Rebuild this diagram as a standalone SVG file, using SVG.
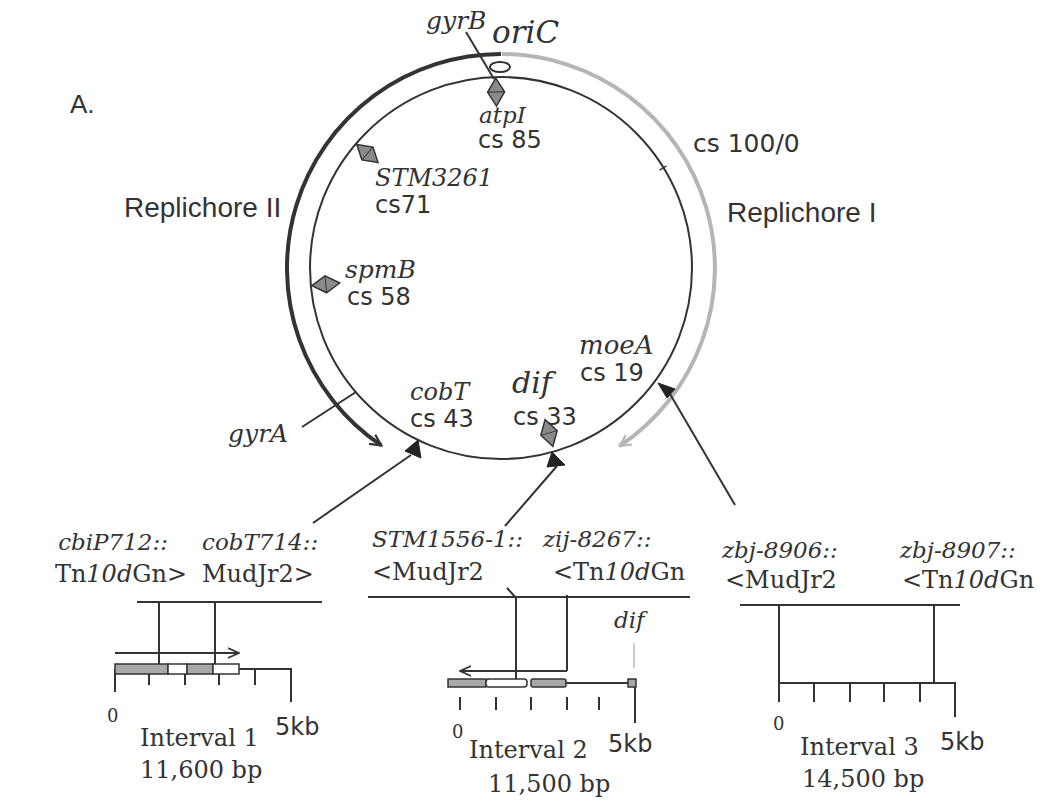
<svg xmlns="http://www.w3.org/2000/svg" width="1044" height="805" viewBox="0 0 1044 805">
<style>
  text { fill: #333; }
  .it { font-family: "DejaVu Serif", serif; font-style: italic; font-size: 24px; }
  .sf { font-family: "DejaVu Serif", serif; font-size: 24px; }
  .i { font-style: italic; }
  .cs { font-family: "DejaVu Sans", sans-serif; font-size: 24px; }
  .rep { font-family: "Liberation Sans", Arial, sans-serif; font-size: 28px; }
  .zero { font-family: "DejaVu Serif", serif; font-size: 18px; }
  .ln { stroke: #333; stroke-width: 2; fill: none; }
  .thin { stroke: #333; stroke-width: 1.5; fill: none; }
  .tri { fill: #222; stroke: #222; stroke-width: 1; }
  .gf { fill: #a8a8a8; stroke: #333; stroke-width: 1.5; }
  .wf { fill: #fff; stroke: #333; stroke-width: 1.5; }
</style>
<defs>
  <!-- open chevron heads -->
  <marker id="hd" viewBox="0 0 14 14" refX="12" refY="7" markerWidth="14" markerHeight="14" markerUnits="userSpaceOnUse" orient="auto">
    <path d="M1,1.5 L12,7 L1,12.5" fill="none" stroke="#333" stroke-width="2.2"/>
  </marker>
  <marker id="hg" viewBox="0 0 14 14" refX="12" refY="7" markerWidth="14" markerHeight="14" markerUnits="userSpaceOnUse" orient="auto">
    <path d="M1,1.5 L12,7 L1,12.5" fill="none" stroke="#b5b5b5" stroke-width="2.2"/>
  </marker>
  <marker id="ha" viewBox="0 0 12 12" refX="11" refY="6" markerWidth="12" markerHeight="12" markerUnits="userSpaceOnUse" orient="auto">
    <path d="M0,1 L11,6 L0,11" fill="none" stroke="#333" stroke-width="1.6"/>
  </marker>
  <!-- locus diamond, long axis along x -->
  <g id="dia">
    <polygon points="-14,0 0,-8.5 14,0 0,8.5" fill="#8a8a8a" stroke="#333" stroke-width="1.5"/>
    <line x1="0" y1="-8.5" x2="0" y2="8.5" stroke="#333" stroke-width="1"/>
  </g>
</defs>

<rect width="1044" height="805" fill="#fff"/>

<text x="70" y="113" class="rep" style="font-size:26px">A.</text>

<!-- chromosome -->
<g id="chromosome">
  <circle cx="501" cy="268" r="191" class="ln"/>
  <path d="M501,54 A214,214 0 0 0 381.3,445.4" fill="none" stroke="#333" stroke-width="4" marker-end="url(#hd)"/>
  <path d="M502,54 A214,214 0 0 1 619.7,446" fill="none" stroke="#b5b5b5" stroke-width="4" marker-end="url(#hg)"/>
  <ellipse cx="500" cy="67" rx="10" ry="5" fill="#fff" stroke="#333" stroke-width="2"/>
  <line x1="659.6" y1="170.1" x2="666.4" y2="165.9" class="thin"/>
</g>

<g id="labels-chromosome">
  <text x="426" y="29" class="it" style="font-size:25px">gyrB</text>
  <text x="492" y="43" class="it" style="font-size:31px">oriC</text>
  <text x="693" y="152" class="cs" style="font-size:25px">cs 100/0</text>
  <text x="124" y="217" class="rep">Replichore II</text>
  <text x="727" y="222" class="rep">Replichore I</text>
  <text x="228" y="442" class="it" style="font-size:25px">gyrA</text>
</g>

<g id="atpI">
  <use href="#dia" transform="translate(496.1,92.1) rotate(-91.6)"/>
  <text x="479" y="123" class="it" style="font-size:23px">atpI</text>
  <text x="478" y="148" class="cs">cs 85</text>
</g>
<g id="STM3261">
  <use href="#dia" transform="translate(367.4,153.5) rotate(-139.4)"/>
  <text x="375" y="186" class="it">STM3261</text>
  <text x="375" y="213" class="cs">cs71</text>
</g>
<g id="spmB">
  <use href="#dia" transform="translate(325.8,284.3) rotate(174.7)"/>
  <text x="345" y="278" class="it" style="font-size:25px">spmB</text>
  <text x="347" y="305" class="cs">cs 58</text>
</g>
<g id="cobT">
  <text x="410" y="400" class="it">cobT</text>
  <text x="410" y="427" class="cs">cs 43</text>
  <polygon points="405,451 418,440 421,458" class="tri"/>
</g>
<g id="dif">
  <use href="#dia" transform="translate(549,433) rotate(73.8)"/>
  <text x="512" y="393" class="it" style="font-size:30px">dif</text>
  <text x="513" y="425" class="cs">cs 33</text>
  <polygon points="552,452 547,467 565,465" class="tri"/>
</g>
<g id="moeA">
  <text x="579" y="354" class="it" style="font-size:26px">moeA</text>
  <text x="580" y="381" class="cs">cs 19</text>
  <polygon points="658,383 675,389 667,398" class="tri"/>
</g>

<!-- connectors -->
<g id="connectors">
  <line x1="466" y1="32" x2="494" y2="79" class="ln"/>
  <line x1="302" y1="427" x2="356" y2="392" class="ln"/>
  <line x1="313" y1="523" x2="411" y2="455" class="ln"/>
  <line x1="505" y1="526" x2="557" y2="466" class="ln"/>
  <line x1="735" y1="505" x2="670" y2="394" class="ln"/>
</g>

<!-- interval 1 -->
<g id="interval1">
  <text x="168" y="550" class="it" style="font-size:23px" text-anchor="end">cbiP712::</text>
  <text x="202" y="550" class="it" style="font-size:23px">cobT714::</text>
  <text x="187" y="582" class="sf" text-anchor="end">Tn<tspan class="i">10d</tspan>Gn&gt;</text>
  <text x="202" y="582" class="sf">MudJr2&gt;</text>
  <line x1="137" y1="602" x2="322" y2="602" class="ln"/>
  <line x1="159" y1="602" x2="159" y2="664" class="ln"/>
  <line x1="215" y1="602" x2="215" y2="664" class="ln"/>
  <line x1="115" y1="653" x2="239" y2="653" class="ln" marker-end="url(#ha)"/>
  <line x1="115" y1="669" x2="291" y2="669" class="ln"/>
  <line x1="115" y1="669" x2="115" y2="692" class="ln"/>
  <line x1="149" y1="669" x2="149" y2="685" class="ln"/>
  <line x1="185" y1="669" x2="185" y2="685" class="ln"/>
  <line x1="219" y1="669" x2="219" y2="685" class="ln"/>
  <line x1="255" y1="669" x2="255" y2="685" class="ln"/>
  <line x1="291" y1="668" x2="291" y2="702" class="ln"/>
  <rect x="115" y="664" width="53" height="10" class="gf"/>
  <rect x="168" y="664" width="19" height="10" class="wf"/>
  <rect x="187" y="664" width="26" height="10" class="gf"/>
  <rect x="213" y="664" width="26" height="10" class="wf"/>
  <text x="107" y="722" class="zero">0</text>
  <text x="275" y="735" class="cs">5kb</text>
  <text x="140" y="746" class="sf">Interval 1</text>
  <text x="140" y="778" class="sf">11,600 bp</text>
</g>

<!-- interval 2 -->
<g id="interval2">
  <text x="372" y="547" class="it" style="font-size:23px">STM1556-1::</text>
  <text x="543" y="547" class="it" style="font-size:23px">zij-8267::</text>
  <text x="372" y="580" class="sf">&lt;MudJr2</text>
  <text x="553" y="580" class="sf">&lt;Tn<tspan class="i">10d</tspan>Gn</text>
  <line x1="368" y1="597" x2="690" y2="597" class="ln"/>
  <polyline points="507,588 516,598 516,679" class="ln"/>
  <polyline points="567,595 567,671" class="ln"/>
  <line x1="567" y1="671" x2="460" y2="671" class="ln" marker-end="url(#ha)"/>
  <line x1="566" y1="683" x2="628" y2="683" class="ln"/>
  <rect x="448" y="679" width="38" height="8" class="gf"/>
  <rect x="486" y="679" width="41" height="8" rx="3" class="wf"/>
  <rect x="531" y="679" width="35" height="8" rx="2" class="gf"/>
  <rect x="628" y="679" width="8" height="8" class="gf"/>
  <text x="614" y="628" class="it" style="font-size:23px">dif</text>
  <line x1="634" y1="643" x2="634" y2="668" stroke="#bbb" stroke-width="1.5"/>
  <line x1="460" y1="697" x2="460" y2="710" class="ln"/>
  <line x1="496" y1="697" x2="496" y2="710" class="ln"/>
  <line x1="531" y1="697" x2="531" y2="710" class="ln"/>
  <line x1="567" y1="697" x2="567" y2="710" class="ln"/>
  <line x1="599" y1="697" x2="599" y2="710" class="ln"/>
  <line x1="635" y1="687" x2="635" y2="723" class="ln"/>
  <text x="452" y="738" class="zero">0</text>
  <text x="608" y="752" class="cs">5kb</text>
  <text x="469" y="758" class="sf">Interval 2</text>
  <text x="488" y="792" class="sf">11,500 bp</text>
</g>

<!-- interval 3 -->
<g id="interval3">
  <text x="722" y="558" class="it" style="font-size:23px">zbj-8906::</text>
  <text x="900" y="558" class="it" style="font-size:23px">zbj-8907::</text>
  <text x="725" y="588" class="sf">&lt;MudJr2</text>
  <text x="902" y="588" class="sf">&lt;Tn<tspan class="i">10d</tspan>Gn</text>
  <line x1="740" y1="605" x2="960" y2="605" class="ln"/>
  <line x1="779" y1="605" x2="779" y2="702" class="ln"/>
  <line x1="934" y1="605" x2="934" y2="683" class="ln"/>
  <line x1="779" y1="683" x2="955" y2="683" class="ln"/>
  <line x1="955" y1="682" x2="955" y2="717" class="ln"/>
  <line x1="814" y1="683" x2="814" y2="702" class="ln"/>
  <line x1="850" y1="683" x2="850" y2="702" class="ln"/>
  <line x1="884" y1="683" x2="884" y2="702" class="ln"/>
  <line x1="920" y1="683" x2="920" y2="702" class="ln"/>
  <text x="773" y="730" class="zero">0</text>
  <text x="940" y="750" class="cs">5kb</text>
  <text x="800" y="755" class="sf">Interval 3</text>
  <text x="802" y="787" class="sf">14,500 bp</text>
</g>
</svg>
